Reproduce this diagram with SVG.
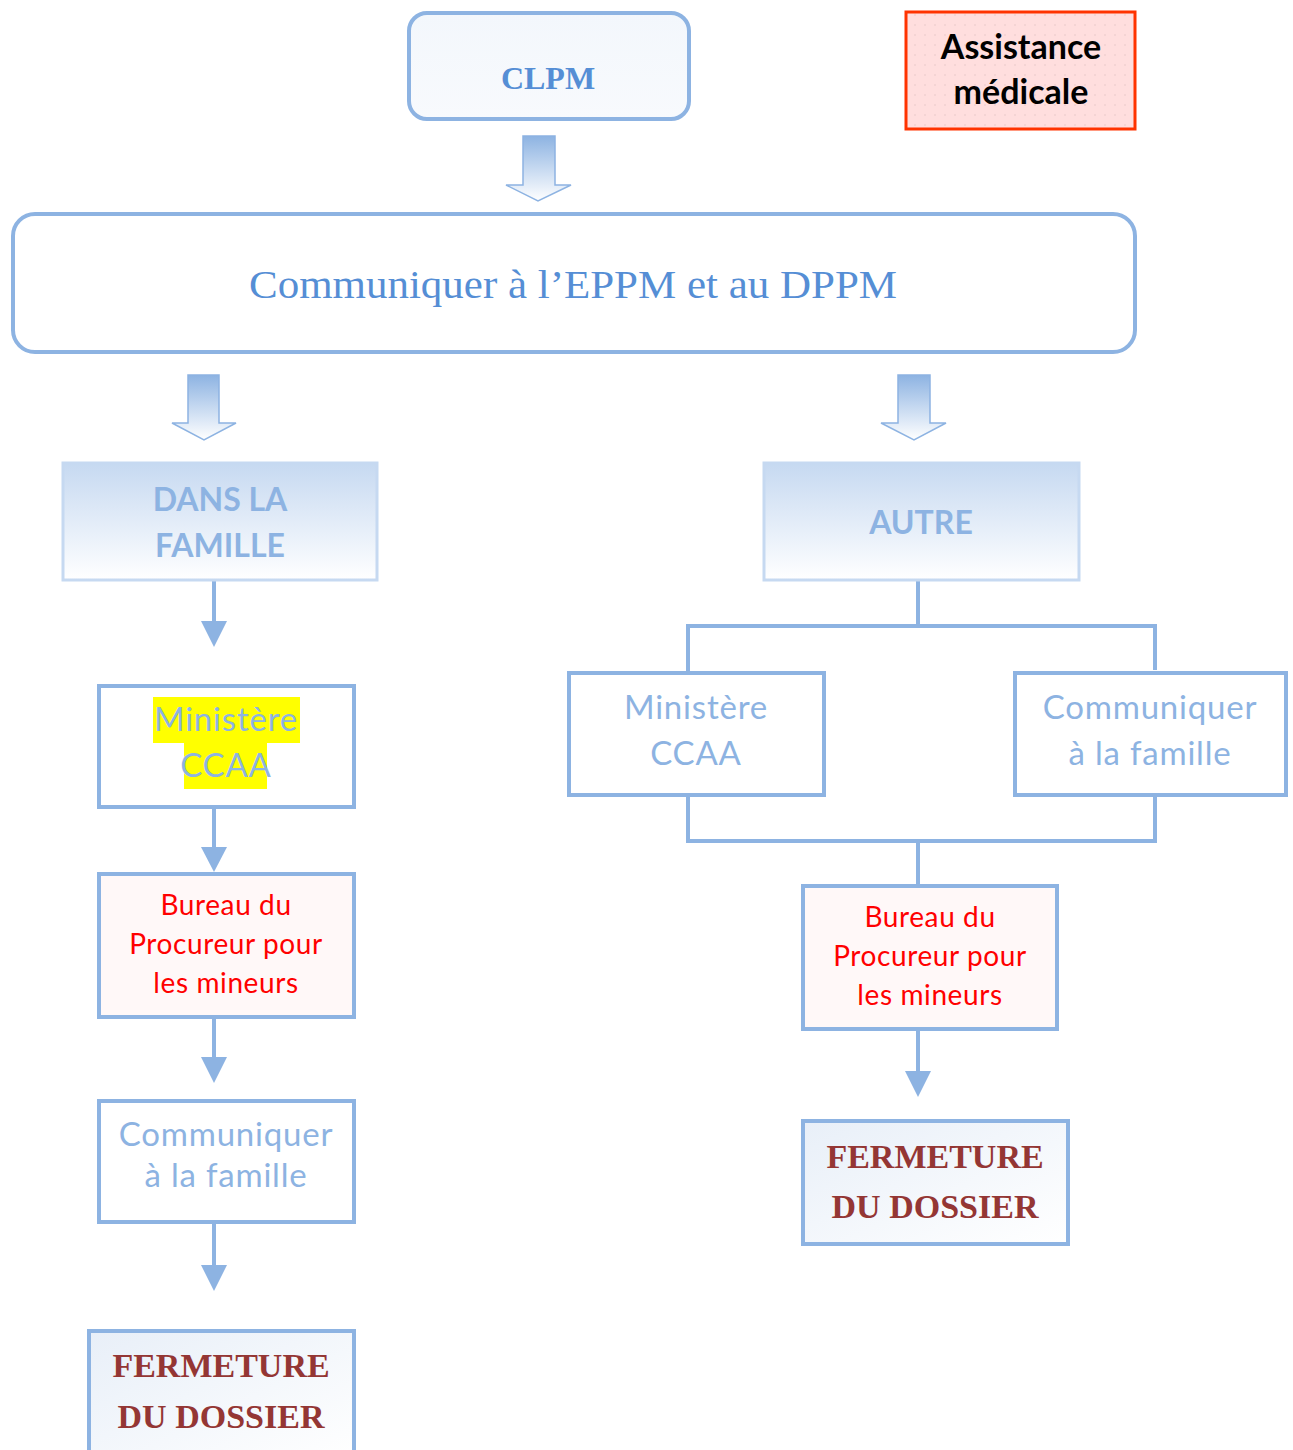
<svg xmlns="http://www.w3.org/2000/svg" width="1293" height="1450" viewBox="0 0 1293 1450">
  <defs>
    <linearGradient id="gBlock" x1="0" y1="0" x2="0" y2="1">
      <stop offset="0" stop-color="#8DB3E2"/>
      <stop offset="1" stop-color="#FFFFFF"/>
    </linearGradient>
    <linearGradient id="gHead" x1="0" y1="0" x2="0" y2="1">
      <stop offset="0" stop-color="#C6D9F1"/>
      <stop offset="1" stop-color="#FFFFFF"/>
    </linearGradient>
    <linearGradient id="gFerm" x1="0" y1="0" x2="1" y2="1">
      <stop offset="0" stop-color="#E8EFF8"/>
      <stop offset="1" stop-color="#FFFFFF"/>
    </linearGradient>
    <linearGradient id="gClpm" x1="0" y1="0" x2="0" y2="1">
      <stop offset="0" stop-color="#F3F7FC"/>
      <stop offset="1" stop-color="#F8FAFD"/>
    </linearGradient>
    <pattern id="dots" width="10" height="10" patternUnits="userSpaceOnUse">
      <rect width="10" height="10" fill="#FFDEDE"/>
      <circle cx="5" cy="5" r="0.8" fill="#E6C8C8"/>
    </pattern>
  </defs>
  <style>
    .box { fill: #FFFFFF; stroke: #8DB3E2; stroke-width: 4; }
    .conn { fill: none; stroke: #8DB3E2; stroke-width: 4; }
    .head { fill: #8DB3E2; }
    .block { fill: url(#gBlock); stroke: #8DB3E2; stroke-width: 1.5; }
    .cal { font-family: Lato, "Open Sans", "Liberation Sans", sans-serif; text-anchor: middle; }
    .ser { font-family: "Liberation Serif", "DejaVu Serif", serif; text-anchor: middle; font-weight: bold; }
    .lb { fill: #8DB3E2; font-size: 33px; letter-spacing: 0.8px; }
    .red { fill: #FF0000; font-size: 28px; letter-spacing: 0.6px; }
    .hd { fill: #8DB3E2; font-size: 32px; font-weight: bold; }
    .ferm { fill: #943634; font-size: 34px; }
  </style>

  <g id="connectors">
    <path class="block" d="M523,136 H555 V185 H571 L538,201 L506,185 H523 Z"/>
    <path class="block" d="M188,375 H219 V423 H236 L204,440 L172,423 H188 Z"/>
    <path class="block" d="M898,375 H930 V423 H946 L914,440 L881,423 H898 Z"/>
    <line class="conn" x1="214" y1="580" x2="214" y2="622"/>
    <path class="head" d="M201,621 L227,621 L214,647 Z"/>
    <line class="conn" x1="214" y1="807" x2="214" y2="848"/>
    <path class="head" d="M201,847 L227,847 L214,872 Z"/>
    <line class="conn" x1="214" y1="1017" x2="214" y2="1058"/>
    <path class="head" d="M201,1057 L227,1057 L214,1083 Z"/>
    <line class="conn" x1="214" y1="1222" x2="214" y2="1266"/>
    <path class="head" d="M201,1265 L227,1265 L214,1291 Z"/>
    <path class="conn" d="M918,580 V626 M688,672 V626 H1155 V670"/>
    <path class="conn" d="M688,795 V841 H1155 V795 M918,841 V885"/>
    <line class="conn" x1="918" y1="1029" x2="918" y2="1072"/>
    <path class="head" d="M905,1071 L931,1071 L918,1097 Z"/>
  </g>

  <g id="clpm">
    <rect x="409" y="13" width="280" height="106" rx="18" fill="url(#gClpm)" stroke="#8DB3E2" stroke-width="4"/>
    <text class="ser" x="548" y="89" font-size="32" fill="#558ED5">CLPM</text>
  </g>

  <g id="assistance">
    <rect x="906" y="12" width="229" height="117" fill="url(#dots)" stroke="#FF3300" stroke-width="3"/>
    <text class="cal" x="1021" y="59" font-size="34" font-weight="bold" fill="#000">Assistance</text>
    <text class="cal" x="1021" y="104" font-size="34" font-weight="bold" fill="#000">médicale</text>
  </g>

  <g id="communiquer-eppm">
    <rect x="13" y="214" width="1122" height="138" rx="22" class="box"/>
    <text x="573" y="298" font-family="'Liberation Serif', 'DejaVu Serif', serif" font-size="40" fill="#558ED5" text-anchor="middle" textLength="648" lengthAdjust="spacingAndGlyphs">Communiquer à l’EPPM et au DPPM</text>
  </g>

  <g id="dans-la-famille">
    <rect x="63" y="463" width="314" height="117" fill="url(#gHead)" stroke="#C6D9F1" stroke-width="3"/>
    <text class="cal hd" x="220" y="511">DANS LA</text>
    <text class="cal hd" x="220" y="557">FAMILLE</text>
  </g>

  <g id="autre">
    <rect x="764" y="463" width="315" height="117" fill="url(#gHead)" stroke="#C6D9F1" stroke-width="3"/>
    <text class="cal hd" x="921" y="534">AUTRE</text>
  </g>

  <g id="ministere-left">
    <rect x="99" y="686" width="255" height="121" class="box"/>
    <rect x="153" y="697" width="147" height="46" fill="#FFFF00"/>
    <rect x="184" y="743" width="83" height="46" fill="#FFFF00"/>
    <text class="cal lb" x="226" y="731">Ministère</text>
    <text class="cal lb" x="226" y="777">CCAA</text>
  </g>

  <g id="bureau-left">
    <rect x="99" y="874" width="255" height="143" fill="#FFF8F8" stroke="#8DB3E2" stroke-width="4"/>
    <text class="cal red" x="226" y="915">Bureau du</text>
    <text class="cal red" x="226" y="954">Procureur pour</text>
    <text class="cal red" x="226" y="993">les mineurs</text>
  </g>

  <g id="communiquer-famille-left">
    <rect x="99" y="1101" width="255" height="121" class="box"/>
    <text class="cal lb" x="226" y="1146">Communiquer</text>
    <text class="cal lb" x="226" y="1187">à la famille</text>
  </g>

  <g id="fermeture-left">
    <rect x="89" y="1331" width="265" height="130" fill="url(#gFerm)" stroke="#8DB3E2" stroke-width="4"/>
    <text class="ser ferm" x="221" y="1377">FERMETURE</text>
    <text class="ser ferm" x="221" y="1428">DU DOSSIER</text>
  </g>

  <g id="ministere-right">
    <rect x="569" y="673" width="255" height="122" class="box"/>
    <text class="cal lb" x="696" y="719">Ministère</text>
    <text class="cal lb" x="696" y="765">CCAA</text>
  </g>

  <g id="communiquer-famille-right">
    <rect x="1015" y="673" width="271" height="122" class="box"/>
    <text class="cal lb" x="1150" y="719">Communiquer</text>
    <text class="cal lb" x="1150" y="765">à la famille</text>
  </g>

  <g id="bureau-right">
    <rect x="803" y="886" width="254" height="143" fill="#FFF8F8" stroke="#8DB3E2" stroke-width="4"/>
    <text class="cal red" x="930" y="927">Bureau du</text>
    <text class="cal red" x="930" y="966">Procureur pour</text>
    <text class="cal red" x="930" y="1005">les mineurs</text>
  </g>

  <g id="fermeture-right">
    <rect x="803" y="1121" width="265" height="123" fill="url(#gFerm)" stroke="#8DB3E2" stroke-width="4"/>
    <text class="ser ferm" x="935" y="1168">FERMETURE</text>
    <text class="ser ferm" x="935" y="1218">DU DOSSIER</text>
  </g>
</svg>
